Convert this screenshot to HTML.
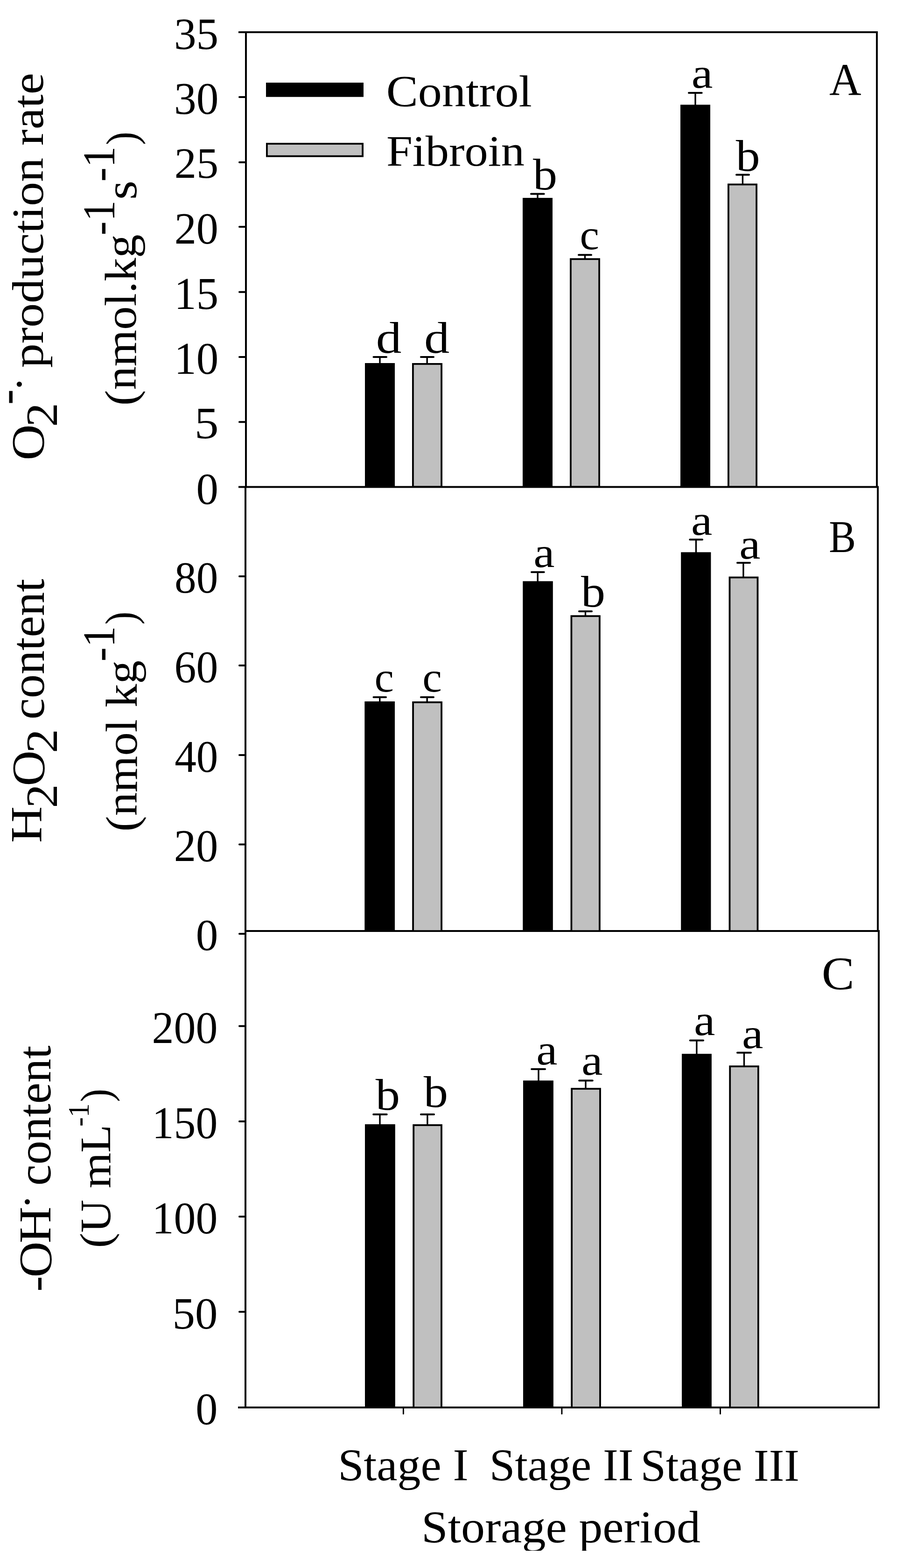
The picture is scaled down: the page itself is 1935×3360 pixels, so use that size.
<!DOCTYPE html><html><head><meta charset="utf-8"><title>Storage period chart</title><style>html,body{margin:0;padding:0;background:#fff;overflow:hidden}svg{display:block}</style></head><body><svg width="1935" height="3360" viewBox="0 0 1935 3360"><rect width="1935" height="3360" fill="#fff"/><g stroke="#000" fill="none"><line x1="511" y1="69" x2="1881" y2="69" stroke-width="4" stroke-linecap="butt"/><line x1="527" y1="67" x2="527" y2="1045" stroke-width="4" stroke-linecap="butt"/><line x1="1879" y1="67" x2="1879" y2="1045" stroke-width="4" stroke-linecap="butt"/><line x1="511" y1="1043.5" x2="1883" y2="1043.5" stroke-width="4" stroke-linecap="butt"/><line x1="526" y1="1043" x2="526" y2="1997" stroke-width="4" stroke-linecap="butt"/><line x1="1881" y1="1043" x2="1881" y2="1997" stroke-width="4" stroke-linecap="butt"/><line x1="526" y1="1995" x2="1885" y2="1995" stroke-width="4" stroke-linecap="butt"/><line x1="513" y1="2001" x2="526" y2="2001" stroke-width="4" stroke-linecap="round"/><line x1="526" y1="1995" x2="526" y2="3018" stroke-width="4" stroke-linecap="butt"/><line x1="1883" y1="1993" x2="1883" y2="3018" stroke-width="4" stroke-linecap="butt"/><line x1="510" y1="3016" x2="1885" y2="3016" stroke-width="4" stroke-linecap="butt"/><line x1="513" y1="208" x2="527" y2="208" stroke-width="4" stroke-linecap="round"/><line x1="513" y1="347.7" x2="527" y2="347.7" stroke-width="4" stroke-linecap="round"/><line x1="513" y1="486" x2="527" y2="486" stroke-width="4" stroke-linecap="round"/><line x1="513" y1="625.8" x2="527" y2="625.8" stroke-width="4" stroke-linecap="round"/><line x1="513" y1="765" x2="527" y2="765" stroke-width="4" stroke-linecap="round"/><line x1="513" y1="904.3" x2="527" y2="904.3" stroke-width="4" stroke-linecap="round"/><line x1="513" y1="1235" x2="526" y2="1235" stroke-width="4" stroke-linecap="round"/><line x1="513" y1="1425.9" x2="526" y2="1425.9" stroke-width="4" stroke-linecap="round"/><line x1="513" y1="1618" x2="526" y2="1618" stroke-width="4" stroke-linecap="round"/><line x1="513" y1="1809.4" x2="526" y2="1809.4" stroke-width="4" stroke-linecap="round"/><line x1="513" y1="2198.8" x2="526" y2="2198.8" stroke-width="4" stroke-linecap="round"/><line x1="513" y1="2403" x2="526" y2="2403" stroke-width="4" stroke-linecap="round"/><line x1="513" y1="2606.9" x2="526" y2="2606.9" stroke-width="4" stroke-linecap="round"/><line x1="513" y1="2810.9" x2="526" y2="2810.9" stroke-width="4" stroke-linecap="round"/><line x1="864.4" y1="3016" x2="864.4" y2="3029.5" stroke-width="3" stroke-linecap="round"/><line x1="1203.9" y1="3016" x2="1203.9" y2="3029.5" stroke-width="3" stroke-linecap="round"/><line x1="1543.5" y1="3016" x2="1543.5" y2="3029.5" stroke-width="3" stroke-linecap="round"/><line x1="814" y1="779" x2="814" y2="765" stroke-width="3.4" stroke-linecap="butt"/><line x1="800.5" y1="765" x2="828" y2="765" stroke-width="4" stroke-linecap="round"/><rect x="782" y="778" width="64.00" height="265.00" fill="#000" stroke="none"/><line x1="915.2" y1="779" x2="915.2" y2="765" stroke-width="3.4" stroke-linecap="butt"/><line x1="902" y1="765" x2="929" y2="765" stroke-width="4" stroke-linecap="round"/><rect x="884.90" y="779.90" width="61.20" height="263.20" fill="#c0c0c0" stroke="#000" stroke-width="3.8"/><line x1="1152" y1="425" x2="1152" y2="415.5" stroke-width="3.4" stroke-linecap="butt"/><line x1="1138" y1="415.5" x2="1165.6" y2="415.5" stroke-width="4" stroke-linecap="round"/><rect x="1120" y="424" width="64.00" height="619.00" fill="#000" stroke="none"/><line x1="1253.5" y1="554.3" x2="1253.5" y2="546.3" stroke-width="3.4" stroke-linecap="butt"/><line x1="1240" y1="546.3" x2="1267" y2="546.3" stroke-width="4" stroke-linecap="round"/><rect x="1222.90" y="555.20" width="61.20" height="487.90" fill="#c0c0c0" stroke="#000" stroke-width="3.8"/><line x1="1490" y1="225.4" x2="1490" y2="199" stroke-width="3.4" stroke-linecap="butt"/><line x1="1476" y1="199" x2="1503.7" y2="199" stroke-width="4" stroke-linecap="round"/><rect x="1458" y="224.4" width="64.00" height="818.60" fill="#000" stroke="none"/><line x1="1591.4" y1="394.4" x2="1591.4" y2="374.4" stroke-width="3.4" stroke-linecap="butt"/><line x1="1578" y1="374.4" x2="1605" y2="374.4" stroke-width="4" stroke-linecap="round"/><rect x="1560.90" y="395.30" width="60.20" height="647.80" fill="#c0c0c0" stroke="#000" stroke-width="3.8"/><line x1="813.8" y1="1504" x2="813.8" y2="1494" stroke-width="3.4" stroke-linecap="butt"/><line x1="800.5" y1="1494" x2="827" y2="1494" stroke-width="4" stroke-linecap="round"/><rect x="781.3" y="1503" width="64.70" height="492.00" fill="#000" stroke="none"/><line x1="915.2" y1="1504" x2="915.2" y2="1494" stroke-width="3.4" stroke-linecap="butt"/><line x1="902" y1="1494" x2="929" y2="1494" stroke-width="4" stroke-linecap="round"/><rect x="885.10" y="1504.90" width="61.00" height="490.20" fill="#c0c0c0" stroke="#000" stroke-width="3.8"/><line x1="1152.2" y1="1246.4" x2="1152.2" y2="1225.9" stroke-width="3.4" stroke-linecap="butt"/><line x1="1139" y1="1225.9" x2="1165.7" y2="1225.9" stroke-width="4" stroke-linecap="round"/><rect x="1120.3" y="1245.4" width="64.50" height="749.60" fill="#000" stroke="none"/><line x1="1254.5" y1="1319.3" x2="1254.5" y2="1309.9" stroke-width="3.4" stroke-linecap="butt"/><line x1="1241" y1="1309.9" x2="1268" y2="1309.9" stroke-width="4" stroke-linecap="round"/><rect x="1224.40" y="1320.20" width="60.50" height="674.90" fill="#c0c0c0" stroke="#000" stroke-width="3.8"/><line x1="1491.5" y1="1184.3" x2="1491.5" y2="1156.2" stroke-width="3.4" stroke-linecap="butt"/><line x1="1478.4" y1="1156.2" x2="1505" y2="1156.2" stroke-width="4" stroke-linecap="round"/><rect x="1459.2" y="1183.3" width="64.20" height="811.70" fill="#000" stroke="none"/><line x1="1592.9" y1="1236.5" x2="1592.9" y2="1206" stroke-width="3.4" stroke-linecap="butt"/><line x1="1580" y1="1206" x2="1607" y2="1206" stroke-width="4" stroke-linecap="round"/><rect x="1563.50" y="1237.40" width="60.00" height="757.70" fill="#c0c0c0" stroke="#000" stroke-width="3.8"/><line x1="814" y1="2410.1" x2="814" y2="2388.1" stroke-width="3.4" stroke-linecap="butt"/><line x1="800.2" y1="2388.1" x2="828.7" y2="2388.1" stroke-width="4" stroke-linecap="round"/><rect x="782" y="2409.1" width="64.80" height="606.90" fill="#000" stroke="none"/><line x1="915.9" y1="2410.1" x2="915.9" y2="2388" stroke-width="3.4" stroke-linecap="butt"/><line x1="902" y1="2388" x2="930" y2="2388" stroke-width="4" stroke-linecap="round"/><rect x="886.20" y="2411.00" width="59.80" height="605.10" fill="#c0c0c0" stroke="#000" stroke-width="3.8"/><line x1="1154" y1="2316.4" x2="1154" y2="2290.9" stroke-width="3.4" stroke-linecap="butt"/><line x1="1139.1" y1="2290.9" x2="1168" y2="2290.9" stroke-width="4" stroke-linecap="round"/><rect x="1121" y="2315.4" width="64.90" height="700.60" fill="#000" stroke="none"/><line x1="1255" y1="2332.2" x2="1255" y2="2315.4" stroke-width="3.4" stroke-linecap="butt"/><line x1="1241.2" y1="2315.4" x2="1269.7" y2="2315.4" stroke-width="4" stroke-linecap="round"/><rect x="1225.10" y="2333.10" width="60.90" height="683.00" fill="#c0c0c0" stroke="#000" stroke-width="3.8"/><line x1="1492.9" y1="2259.2" x2="1492.9" y2="2229.4" stroke-width="3.4" stroke-linecap="butt"/><line x1="1478.8" y1="2229.4" x2="1507" y2="2229.4" stroke-width="4" stroke-linecap="round"/><rect x="1461" y="2258.2" width="63.90" height="757.80" fill="#000" stroke="none"/><line x1="1594.5" y1="2284.2" x2="1594.5" y2="2255.7" stroke-width="3.4" stroke-linecap="butt"/><line x1="1580" y1="2255.7" x2="1609" y2="2255.7" stroke-width="4" stroke-linecap="round"/><rect x="1564.20" y="2285.10" width="60.70" height="731.00" fill="#c0c0c0" stroke="#000" stroke-width="3.8"/><rect x="570" y="177.1" width="209.00" height="30.60" fill="#000" stroke="none"/><rect x="571.90" y="308.00" width="205.20" height="26.70" fill="#c0c0c0" stroke="#000" stroke-width="3.8"/></g><g font-family="'Liberation Serif', serif" font-size="400" fill="#000"><text transform="matrix(0.23808,0,0,0.23717,372.98,104.85)">35</text><text transform="matrix(0.23852,0,0,0.24148,372.97,244.03)">30</text><text transform="matrix(0.23579,0,0,0.23494,373.86,381.26)">25</text><text transform="matrix(0.23542,0,0,0.23963,373.76,522.04)">20</text><text transform="matrix(0.23725,0,0,0.24403,373.30,661.82)">15</text><text transform="matrix(0.23771,0,0,0.24333,373.28,801.13)">10</text><text transform="matrix(0.25901,0,0,0.23985,416.74,939.34)">5</text><text transform="matrix(0.23706,0,0,0.23926,420.54,1079.64)">0</text><text transform="matrix(0.23324,0,0,0.23963,374.00,1270.34)">80</text><text transform="matrix(0.23451,0,0,0.2437,373.51,1461.53)">60</text><text transform="matrix(0.23289,0,0,0.24222,374.14,1654.33)">40</text><text transform="matrix(0.23678,0,0,0.24148,372.64,1844.83)">20</text><text transform="matrix(0.23824,0,0,0.23926,419.73,2035.84)">0</text><text transform="matrix(0.23474,0,0,0.24222,325.57,2235.03)">200</text><text transform="matrix(0.23455,0,0,0.2437,325.69,2439.03)">150</text><text transform="matrix(0.23455,0,0,0.2437,325.69,2642.93)">100</text><text transform="matrix(0.24254,0,0,0.24,369.52,2847.04)">50</text><text transform="matrix(0.23588,0,0,0.2437,419.26,3051.63)">0</text><text transform="matrix(0.27348,0,0,0.23759,805.67,756.05)">d</text><text transform="matrix(0.27127,0,0,0.23865,909.10,756.15)">d</text><text transform="matrix(0.26054,0,0,0.23901,1142.00,406.14)">b</text><text transform="matrix(0.23333,0,0,0.22917,1242.50,534.08)">c</text><text transform="matrix(0.25759,0,0,0.2276,1481.69,187.79)">a</text><text transform="matrix(0.25946,0,0,0.23759,1576.70,366.05)">b</text><text transform="matrix(0.23333,0,0,0.22917,802.50,1482.18)">c</text><text transform="matrix(0.23467,0,0,0.22917,905.28,1482.18)">c</text><text transform="matrix(0.25506,0,0,0.22865,1143.13,1214.89)">a</text><text transform="matrix(0.26,0,0,0.23723,1244.90,1300.05)">b</text><text transform="matrix(0.25506,0,0,0.22969,1481.03,1146.08)">a</text><text transform="matrix(0.25443,0,0,0.2276,1584.14,1196.99)">a</text><text transform="matrix(0.26162,0,0,0.23759,804.70,2377.95)">b</text><text transform="matrix(0.26162,0,0,0.23865,907.70,2372.15)">b</text><text transform="matrix(0.25443,0,0,0.23021,1149.34,2281.08)">a</text><text transform="matrix(0.25633,0,0,0.22917,1246.11,2303.08)">a</text><text transform="matrix(0.2557,0,0,0.23073,1486.92,2218.18)">a</text><text transform="matrix(0.2557,0,0,0.22865,1590.02,2245.89)">a</text><text transform="matrix(0.23759,0,0,0.24299,1777.05,202.90)">A</text><text transform="matrix(0.2166,0,0,0.24335,1776.30,1182.66)">B</text><text transform="matrix(0.26201,0,0,0.24907,1760.71,2118.70)">C</text><text transform="matrix(0.25543,0,0,0.24043,827.71,227.84)">Control</text><text transform="matrix(0.25147,0,0,0.2344,827.88,355.16)">Fibroin</text><text transform="matrix(0.24931,0,0,0.24264,724.17,3171.90)">Stage I</text><text transform="matrix(0.24605,0,0,0.24264,1048.66,3171.90)">Stage II</text><text transform="matrix(0.24521,0,0,0.24453,1372.58,3172.50)">Stage III</text><text transform="matrix(0.25515,0,0,0.24137,903.01,3304.50)">Storage period</text><text transform="matrix(0,-0.26719,0.24907,0,93.00,986.38)">O</text><text transform="matrix(0,-0.25812,0.23811,0,122.00,914.65)">2</text><text transform="matrix(0,-0.13871,0.375,0,73.12,866.17)">−</text><text transform="matrix(0,-0.23191,0.2383,0,72.87,838.87)">·</text><text transform="matrix(0,-0.25997,0.23741,0,92.00,788.36)">production rate</text><text transform="matrix(0,-0.2521,0.23777,0,291.00,869.14)">(nmol.kg</text><text transform="matrix(0,-0.22449,0.2428,0,245.10,504.17)">-1</text><text transform="matrix(0,-0.2632,0.23594,0,292.16,428.01)">s</text><text transform="matrix(0,-0.22789,0.2428,0,245.10,389.32)">-1</text><text transform="matrix(0,-0.21359,0.23508,0,292.02,310.68)">)</text><text transform="matrix(0,-0.27132,0.24008,0,88.90,1806.16)">H</text><text transform="matrix(0,-0.25625,0.23623,0,122.00,1731.61)">2</text><text transform="matrix(0,-0.26406,0.24907,0,93.80,1684.62)">O</text><text transform="matrix(0,-0.25812,0.23623,0,122.00,1613.65)">2</text><text transform="matrix(0,-0.25621,0.25633,0,93.57,1541.84)">content</text><text transform="matrix(0,-0.25203,0.23741,0,292.90,1781.94)">(nmol kg</text><text transform="matrix(0,-0.22789,0.2428,0,245.10,1417.42)">-1</text><text transform="matrix(0,-0.20971,0.23453,0,289.86,1338.43)">)</text><text transform="matrix(0,-0.25,0.24,0,108.06,2767.75)">-</text><text transform="matrix(0,-0.26719,0.24981,0,109.00,2737.47)">O</text><text transform="matrix(0,-0.27208,0.24122,0,108.10,2664.26)">H</text><text transform="matrix(0,-0.23191,0.23404,0,88.51,2590.67)">·</text><text transform="matrix(0,-0.25517,0.25459,0,108.28,2540.83)">content</text><text transform="matrix(0,-0.24522,0.23141,0,236.00,2674.21)">(U mL</text><text transform="matrix(0,-0.14932,0.15947,0,190.00,2414.04)">-1</text><text transform="matrix(0,-0.21359,0.23481,0,236.94,2361.58)">)</text></g><rect x="0" y="3323" width="1935" height="37" fill="#fff"/></svg></body></html>
